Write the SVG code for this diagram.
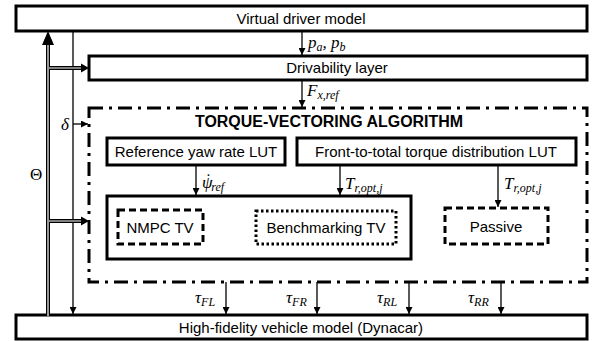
<svg xmlns="http://www.w3.org/2000/svg" width="599" height="341" viewBox="0 0 599 341">
<defs>
<style>
.box{fill:#fff;stroke:#000;stroke-width:3}
.dd{fill:none;stroke:#000;stroke-width:3;stroke-dasharray:14 6 3 6}
.dash{fill:none;stroke:#000;stroke-width:3;stroke-dasharray:7 4}
.dot{fill:none;stroke:#000;stroke-width:3;stroke-dasharray:2.5 2.5}
.t{font-family:"Liberation Sans",Arial,sans-serif;font-size:15px;fill:#000;text-anchor:middle}
.tb{font-family:"Liberation Sans",Arial,sans-serif;font-size:16px;font-weight:bold;fill:#000;text-anchor:middle}
.m{font-family:"Liberation Serif","DejaVu Serif",serif;font-style:italic;font-size:17px;fill:#000}
.s{font-size:12px}
.ln{stroke:#000;stroke-width:1.3;fill:none}
</style>
<marker id="ah" viewBox="0 0 10 10" refX="10" refY="5" markerWidth="7" markerHeight="7" markerUnits="userSpaceOnUse" orient="auto"><path d="M0,0L10,5L0,10z" fill="#000"/></marker>
</defs>
<g id="virtual-driver"><rect class="box" x="16" y="6" width="571" height="25"/><text class="t" x="301" y="24">Virtual driver model</text></g>
<g id="drivability"><rect class="box" x="89" y="56" width="498" height="24"/><text class="t" x="337" y="73">Drivability layer</text></g>
<g id="tv-algorithm"><rect class="dd" x="89" y="108" width="498" height="174"/><text class="tb" x="329" y="127" textLength="268" lengthAdjust="spacingAndGlyphs">TORQUE-VECTORING ALGORITHM</text></g>
<g id="ref-yaw"><rect class="box" x="107" y="138" width="178" height="27"/><text class="t" x="196" y="157">Reference yaw rate LUT</text></g>
<g id="front-to-total"><rect class="box" x="297" y="138" width="279" height="27"/><text class="t" x="436" y="157">Front-to-total torque distribution LUT</text></g>
<g id="controllers"><rect class="box" x="107" y="196" width="304" height="63"/></g>
<g id="nmpc"><rect class="dash" x="118" y="210" width="85" height="34"/><text class="t" x="160" y="233">NMPC TV</text></g>
<g id="benchmarking"><rect class="dot" x="256" y="211" width="140" height="33"/><text class="t" x="326" y="233">Benchmarking TV</text></g>
<g id="passive"><rect class="dash" x="445" y="208" width="103" height="36"/><text class="t" x="496" y="232">Passive</text></g>
<g id="vehicle"><rect class="box" x="16" y="315" width="571" height="24"/><text class="t" x="301" y="333">High-fidelity vehicle model (Dynacar)</text></g>
<g id="connectors">
<line class="ln" x1="302" y1="31" x2="302" y2="55" marker-end="url(#ah)"/>
<line class="ln" x1="302" y1="80" x2="302" y2="107" marker-end="url(#ah)"/>
<line class="ln" x1="196" y1="165" x2="196" y2="195" marker-end="url(#ah)"/>
<line class="ln" x1="340" y1="165" x2="340" y2="195" marker-end="url(#ah)"/>
<line class="ln" x1="498" y1="165" x2="498" y2="207" marker-end="url(#ah)"/>
<line class="ln" x1="226" y1="282" x2="226" y2="314" marker-end="url(#ah)"/>
<line class="ln" x1="317" y1="282" x2="317" y2="314" marker-end="url(#ah)"/>
<line class="ln" x1="409" y1="282" x2="409" y2="314" marker-end="url(#ah)"/>
<line class="ln" x1="501" y1="282" x2="501" y2="314" marker-end="url(#ah)"/>
<line class="ln" x1="73" y1="31" x2="73" y2="314" marker-end="url(#ah)"/>
<line class="ln" x1="73" y1="124" x2="88" y2="124" marker-end="url(#ah)"/>
<g stroke="#000" fill="none">
<line x1="48" y1="315" x2="48" y2="44" stroke-width="4"/>
<line x1="48" y1="316" x2="48" y2="44" stroke="#fff" stroke-width="1.2"/>
<polygon points="48,31 42,45 54,45" fill="#000" stroke="none"/>
<line x1="50" y1="68" x2="83" y2="68" stroke-width="4"/>
<line x1="49" y1="68" x2="84" y2="68" stroke="#fff" stroke-width="1.2"/>
<polygon points="89,68 81,63.5 81,72.5" fill="#000" stroke="none"/>
<line x1="50" y1="221" x2="83" y2="221" stroke-width="4"/>
<line x1="49" y1="221" x2="84" y2="221" stroke="#fff" stroke-width="1.2"/>
<polygon points="89,221 81,216.5 81,225.5" fill="#000" stroke="none"/>
</g>
</g>
<g id="labels">
<text class="m" x="308" y="48">p<tspan class="s" dy="3">a</tspan><tspan dy="-3">, p</tspan><tspan class="s" dy="3">b</tspan></text>
<text class="m" x="307" y="96">F<tspan class="s" dy="3">x,ref</tspan></text>
<text class="m" x="202" y="188">ψ<tspan dx="-8" dy="-3">˙</tspan><tspan class="s" dx="1" dy="6">ref</tspan></text>
<text class="m" x="345" y="189">T<tspan class="s" dy="3">r,opt,j</tspan></text>
<text class="m" x="504" y="189">T<tspan class="s" dy="3">r,opt,j</tspan></text>
<text class="m" x="61" y="130">δ</text>
<text class="m" x="30" y="180" style="font-style:normal">Θ</text>
<text class="m" x="195" y="303">τ<tspan class="s" dy="3">FL</tspan></text>
<text class="m" x="286" y="303">τ<tspan class="s" dy="3">FR</tspan></text>
<text class="m" x="377" y="303">τ<tspan class="s" dy="3">RL</tspan></text>
<text class="m" x="468" y="303">τ<tspan class="s" dy="3">RR</tspan></text>
</g>
</svg>
